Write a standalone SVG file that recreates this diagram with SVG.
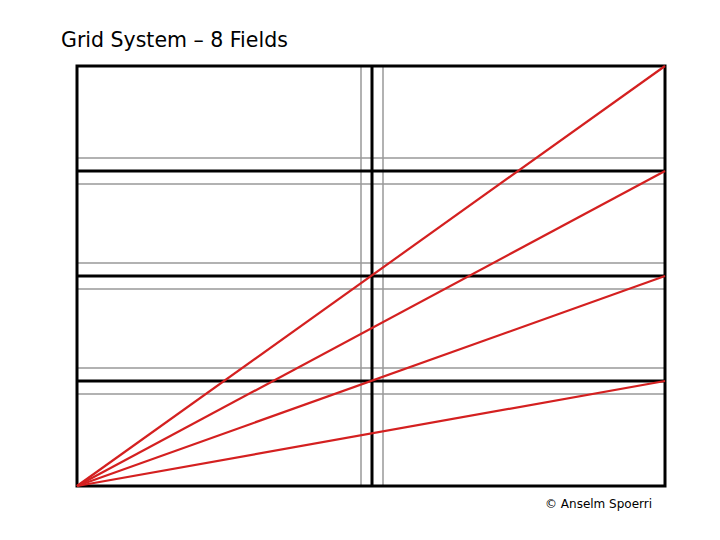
<svg xmlns="http://www.w3.org/2000/svg" width="720" height="540" viewBox="0 0 720 540">
<style>
.g{stroke:#999;stroke-width:1.5;fill:none}
.b{stroke:#000;stroke-width:3;fill:none}
.r{stroke:#d42020;stroke-width:2.2;fill:none}
text{font-family:"DejaVu Sans",sans-serif;fill:#000}
</style>
<rect width="720" height="540" fill="#fff"/>
<text x="61" y="47" font-size="20.5">Grid System – 8 Fields</text>
<g id="gutters">
<line class="g" x1="361" y1="66" x2="361" y2="486"/>
<line class="g" x1="383" y1="66" x2="383" y2="486"/>
<line class="g" x1="77" y1="158" x2="665" y2="158"/>
<line class="g" x1="77" y1="184" x2="665" y2="184"/>
<line class="g" x1="77" y1="263" x2="665" y2="263"/>
<line class="g" x1="77" y1="289" x2="665" y2="289"/>
<line class="g" x1="77" y1="368" x2="665" y2="368"/>
<line class="g" x1="77" y1="394" x2="665" y2="394"/>
</g>
<g id="grid">
<rect class="b" x="77" y="66" width="588" height="420"/>
<line class="b" x1="372" y1="66" x2="372" y2="486"/>
<line class="b" x1="77" y1="171" x2="665" y2="171"/>
<line class="b" x1="77" y1="276" x2="665" y2="276"/>
<line class="b" x1="77" y1="381" x2="665" y2="381"/>
</g>
<g id="connectors">
<line class="r" x1="77" y1="486" x2="665" y2="66"/>
<line class="r" x1="77" y1="486" x2="665" y2="171"/>
<line class="r" x1="77" y1="486" x2="665" y2="276"/>
<line class="r" x1="77" y1="486" x2="665" y2="381"/>
</g>
<text x="545" y="508" font-size="12">© Anselm Spoerri</text>
</svg>
